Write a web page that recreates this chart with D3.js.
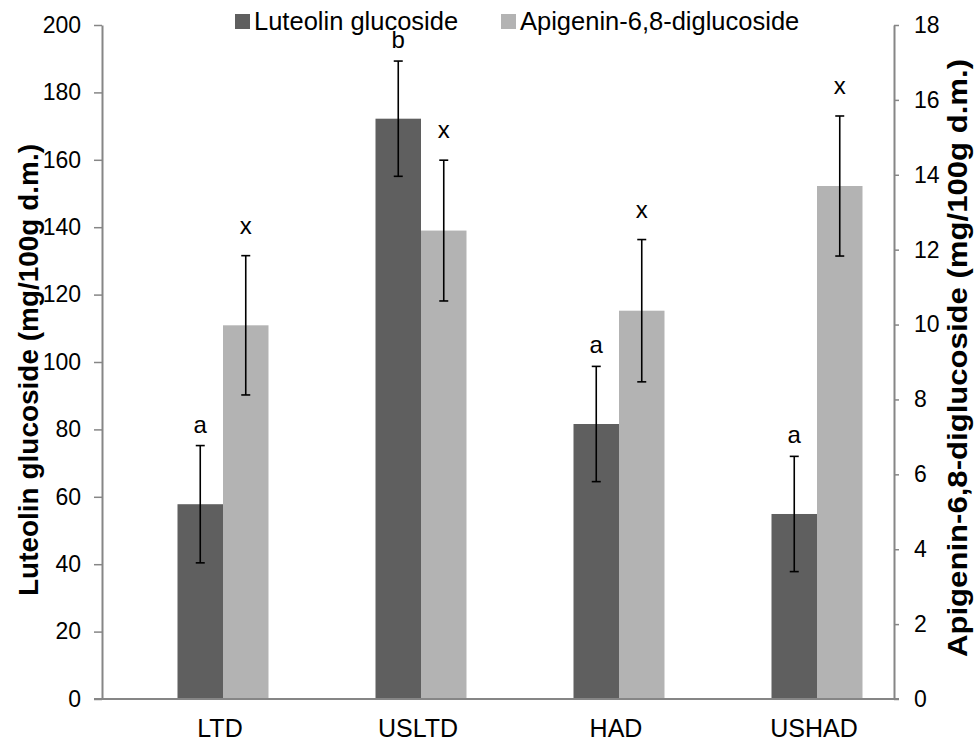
<!DOCTYPE html>
<html>
<head>
<meta charset="utf-8">
<script src="https://cdn.jsdelivr.net/npm/d3@7"></script>
<style>
  html, body { margin: 0; padding: 0; background: #ffffff; }
  svg { display: block; font-family: "Liberation Sans", Arial, sans-serif; }
</style>
</head>
<body>
<svg id="chart" width="980" height="749"></svg>
<script>
// Drying treatments
const categories = ["LTD", "USLTD", "HAD", "USHAD"];

// Luteolin glucoside (mg/100g d.m.), left axis
const luteolin = [57.8, 172.2, 81.6, 54.9];
const luteolinErr = [17.4, 17.1, 17.1, 17.1];
const luteolinLetters = ["a", "b", "a", "a"];

// Apigenin-6,8-diglucoside (mg/100g d.m.), right axis
const apigenin = [9.98, 12.51, 10.37, 13.70];
const apigeninErr = [1.86, 1.88, 1.90, 1.87];
const apigeninLetters = ["x", "x", "x", "x"];

const leftTicks = [0, 20, 40, 60, 80, 100, 120, 140, 160, 180, 200];
const rightTicks = [0, 2, 4, 6, 8, 10, 12, 14, 16, 18];

const seriesNames = ["Luteolin glucoside", "Apigenin-6,8-diglucoside"];
const seriesColors = ["#5f5f5f", "#b3b3b3"];

const svg = d3.select("#chart");
const axisColor = "#868686";

const plot = { left: 102, right: 894, top: 25, bottom: 699 };

const x = d3.scaleBand().domain(categories).range([124, 916]).padding(0);
const groupWidth = 91;
const xs = d3.scaleBand().domain([0, 1]).range([-groupWidth / 2, groupWidth / 2]).padding(0);

const yL = d3.scaleLinear().domain([0, 200]).range([plot.bottom, plot.top]);
const yR = d3.scaleLinear().domain([0, 18]).range([plot.bottom, plot.top]);

// Left axis
const leftAxis = svg.append("g")
  .attr("transform", `translate(${plot.left},0)`)
  .call(d3.axisLeft(yL).tickValues(leftTicks).tickSize(8).tickPadding(13).tickSizeOuter(0));
// Right axis
const rightAxis = svg.append("g")
  .attr("transform", `translate(${plot.right},0)`)
  .call(d3.axisRight(yR).tickValues(rightTicks).tickSize(5).tickPadding(15).tickSizeOuter(0));

[leftAxis, rightAxis].forEach(g => {
  g.select(".domain").attr("stroke", axisColor).attr("stroke-width", 2);
  g.selectAll(".tick line").attr("stroke", axisColor).attr("stroke-width", 1.5);
  g.selectAll(".tick text")
    .attr("fill", "#000")
    .style("font-size", "23px")
    .style("font-family", "'Liberation Sans', Arial, sans-serif");
});

// Bars
const groups = svg.append("g").selectAll("g")
  .data(categories)
  .join("g")
  .attr("transform", d => `translate(${x(d) + x.bandwidth() / 2},0)`);

groups.append("rect")
  .attr("x", xs(0))
  .attr("width", xs.bandwidth())
  .attr("y", (d, i) => yL(luteolin[i]))
  .attr("height", (d, i) => yL(0) - yL(luteolin[i]))
  .attr("fill", seriesColors[0]);

groups.append("rect")
  .attr("x", xs(1))
  .attr("width", xs.bandwidth())
  .attr("y", (d, i) => yR(apigenin[i]))
  .attr("height", (d, i) => yR(0) - yR(apigenin[i]))
  .attr("fill", seriesColors[1]);

// Error bars
function errorBar(sel, cx, top, bottom) {
  const cap = 4.5;
  sel.append("line").attr("x1", cx).attr("x2", cx).attr("y1", top).attr("y2", bottom);
  sel.append("line").attr("x1", cx - cap).attr("x2", cx + cap).attr("y1", top).attr("y2", top);
  sel.append("line").attr("x1", cx - cap).attr("x2", cx + cap).attr("y1", bottom).attr("y2", bottom);
}

groups.each(function (d, i) {
  const g = d3.select(this).append("g").attr("stroke", "#000").attr("stroke-width", 1.6);
  const c0 = xs(0) + xs.bandwidth() / 2;
  const c1 = xs(1) + xs.bandwidth() / 2;
  errorBar(g, c0, yL(luteolin[i] + luteolinErr[i]), yL(luteolin[i] - luteolinErr[i]));
  errorBar(g, c1, yR(apigenin[i] + apigeninErr[i]), yR(apigenin[i] - apigeninErr[i]));
});

// Significance letters
groups.append("text")
  .attr("x", xs(0) + xs.bandwidth() / 2)
  .attr("y", (d, i) => yL(luteolin[i] + luteolinErr[i]) - 13)
  .attr("text-anchor", "middle")
  .style("font-size", "24px")
  .text((d, i) => luteolinLetters[i]);

groups.append("text")
  .attr("x", xs(1) + xs.bandwidth() / 2)
  .attr("y", (d, i) => yR(apigenin[i] + apigeninErr[i]) - 22)
  .attr("text-anchor", "middle")
  .style("font-size", "24px")
  .text((d, i) => apigeninLetters[i]);

// Category axis along the bottom
svg.append("line")
  .attr("x1", plot.left - 8).attr("x2", plot.right + 5)
  .attr("y1", plot.bottom).attr("y2", plot.bottom)
  .attr("stroke", axisColor).attr("stroke-width", 2);

svg.append("g").selectAll("text")
  .data(categories)
  .join("text")
  .attr("x", d => x(d) + x.bandwidth() / 2 - 3)
  .attr("y", 737)
  .attr("text-anchor", "middle")
  .style("font-size", "25px")
  .text(d => d);

// Axis titles
svg.append("text")
  .attr("transform", "translate(38,370) rotate(-90)")
  .attr("text-anchor", "middle")
  .attr("textLength", 452)
  .attr("lengthAdjust", "spacingAndGlyphs")
  .style("font-size", "27px")
  .style("font-weight", "bold")
  .text("Luteolin glucoside (mg/100g d.m.)");

svg.append("text")
  .attr("transform", "translate(967,358) rotate(-90)")
  .attr("text-anchor", "middle")
  .attr("textLength", 598)
  .attr("lengthAdjust", "spacingAndGlyphs")
  .style("font-size", "28px")
  .style("font-weight", "bold")
  .text("Apigenin-6,8-diglucoside (mg/100g d.m.)");

// Legend
const legendX = [235, 501];
const legend = svg.append("g").selectAll("g")
  .data(seriesNames)
  .join("g")
  .attr("transform", (d, i) => `translate(${legendX[i]},0)`);
legend.append("rect")
  .attr("x", 0).attr("y", 14).attr("width", 15).attr("height", 15)
  .attr("fill", (d, i) => seriesColors[i]);
legend.append("text")
  .attr("x", 19).attr("y", 30)
  .style("font-size", "25.5px")
  .text(d => d);
</script>
</body>
</html>
